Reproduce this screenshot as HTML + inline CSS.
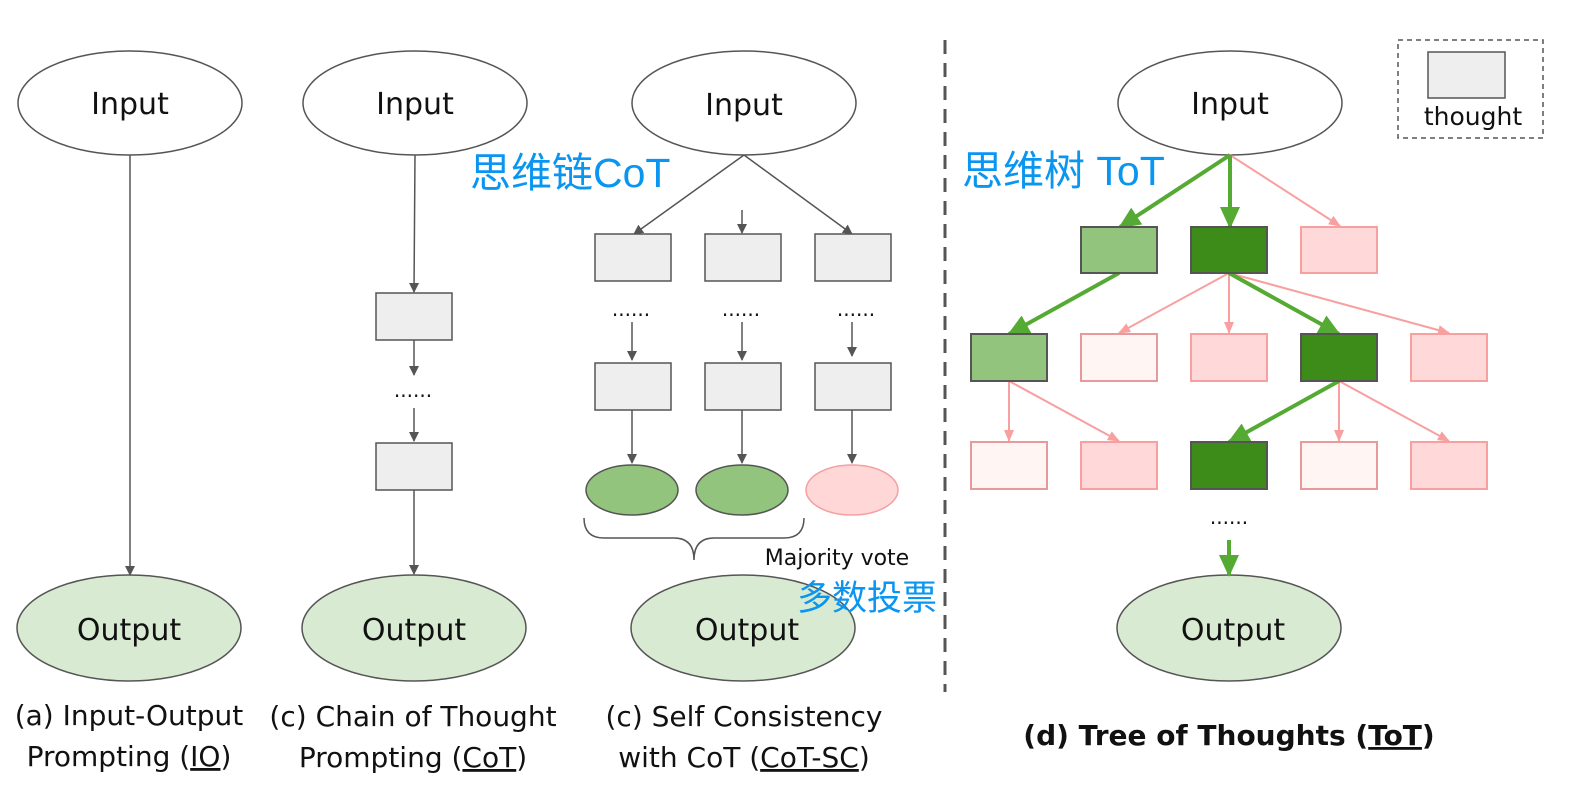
<!DOCTYPE html>
<html><head><meta charset="utf-8"><style>
body{margin:0;background:#fff;}
svg{display:block;font-family:"DejaVu Sans","Liberation Sans",sans-serif;}
</style></head><body>
<svg width="1569" height="793" viewBox="0 0 1569 793" xmlns="http://www.w3.org/2000/svg">
<defs>
<marker id="ag" markerWidth="10" markerHeight="10" refX="9" refY="5" orient="auto" markerUnits="userSpaceOnUse"><path d="M0,0 L10,5 L0,10 z" fill="#555"/></marker>
<marker id="ap" markerWidth="12" markerHeight="12" refX="11" refY="6" orient="auto" markerUnits="userSpaceOnUse"><path d="M0,1 L12,6 L0,11 z" fill="#f8a0a0"/></marker>
<marker id="agr" markerWidth="22" markerHeight="20" refX="20" refY="10" orient="auto" markerUnits="userSpaceOnUse"><path d="M0,0 L22,10 L0,20 z" fill="#55aa33"/></marker>
</defs>
<g fill="none" stroke="#555" stroke-width="1.5">
<ellipse cx="130" cy="103" rx="112" ry="52" fill="#fff"/>
<ellipse cx="415" cy="103" rx="112" ry="52" fill="#fff"/>
<ellipse cx="744" cy="103" rx="112" ry="52" fill="#fff"/>
<ellipse cx="1230" cy="103" rx="112" ry="52" fill="#fff"/>
<ellipse cx="129" cy="628" rx="112" ry="53" fill="#d9ead3"/>
<ellipse cx="414" cy="628" rx="112" ry="53" fill="#d9ead3"/>
<ellipse cx="743" cy="628" rx="112" ry="53" fill="#d9ead3"/>
<ellipse cx="1229" cy="628" rx="112" ry="53" fill="#d9ead3"/>
<line x1="130" y1="155" x2="130" y2="575" marker-end="url(#ag)"/>
<line x1="415" y1="155" x2="414" y2="292" marker-end="url(#ag)"/>
<rect x="376" y="293" width="76" height="47" fill="#eee"/>
<line x1="414" y1="340" x2="414" y2="375" marker-end="url(#ag)"/>
<line x1="414" y1="408" x2="414" y2="441" marker-end="url(#ag)"/>
<rect x="376" y="443" width="76" height="47" fill="#eee"/>
<line x1="414" y1="490" x2="414" y2="574" marker-end="url(#ag)"/>
<line x1="744" y1="155" x2="634" y2="234" marker-end="url(#ag)"/>
<line x1="742" y1="210" x2="742" y2="233" marker-end="url(#ag)"/>
<line x1="744" y1="155" x2="852" y2="234" marker-end="url(#ag)"/>
<rect x="595" y="234" width="76" height="47" fill="#eee"/>
<rect x="705" y="234" width="76" height="47" fill="#eee"/>
<rect x="815" y="234" width="76" height="47" fill="#eee"/>
<line x1="632" y1="322" x2="632" y2="360" marker-end="url(#ag)"/>
<line x1="742" y1="322" x2="742" y2="360" marker-end="url(#ag)"/>
<line x1="852" y1="322" x2="852" y2="356" marker-end="url(#ag)"/>
<rect x="595" y="363" width="76" height="47" fill="#eee"/>
<rect x="705" y="363" width="76" height="47" fill="#eee"/>
<rect x="815" y="363" width="76" height="47" fill="#eee"/>
<line x1="632" y1="410" x2="632" y2="463" marker-end="url(#ag)"/>
<line x1="742" y1="410" x2="742" y2="463" marker-end="url(#ag)"/>
<line x1="852" y1="410" x2="852" y2="463" marker-end="url(#ag)"/>
<ellipse cx="632" cy="490" rx="46" ry="25" fill="#93c47d"/>
<ellipse cx="742" cy="490" rx="46" ry="25" fill="#93c47d"/>
<ellipse cx="852" cy="490" rx="46" ry="25" fill="#ffd7d7" stroke="#f4a0a0"/>
<path d="M584,518 Q584,538 604,538 L674,538 Q694,538 694,560 Q694,538 714,538 L784,538 Q804,538 804,518"/>
</g>
<line x1="945" y1="40" x2="945" y2="692" stroke="#555" stroke-width="3" stroke-dasharray="14,9"/>
<rect x="1398" y="40" width="145" height="98" fill="none" stroke="#555" stroke-width="1.5" stroke-dasharray="5,4"/>
<rect x="1428" y="52" width="77" height="46" fill="#eee" stroke="#555" stroke-width="1.5"/>
<text x="1473" y="125" font-size="25" text-anchor="middle" fill="#111">thought</text>
<g stroke-width="2" fill="none">
<line x1="1230" y1="155" x2="1340" y2="226" stroke="#f8a0a0" marker-end="url(#ap)"/>
<line x1="1229" y1="273" x2="1119" y2="333" stroke="#f8a0a0" marker-end="url(#ap)"/>
<line x1="1229" y1="273" x2="1229" y2="333" stroke="#f8a0a0" marker-end="url(#ap)"/>
<line x1="1229" y1="273" x2="1449" y2="333" stroke="#f8a0a0" marker-end="url(#ap)"/>
<line x1="1009" y1="381" x2="1009" y2="441" stroke="#f8a0a0" marker-end="url(#ap)"/>
<line x1="1009" y1="381" x2="1119" y2="441" stroke="#f8a0a0" marker-end="url(#ap)"/>
<line x1="1339" y1="381" x2="1339" y2="441" stroke="#f8a0a0" marker-end="url(#ap)"/>
<line x1="1339" y1="381" x2="1449" y2="441" stroke="#f8a0a0" marker-end="url(#ap)"/>
</g>
<g stroke="#55aa33" stroke-width="4" fill="none">
<line x1="1230" y1="155" x2="1120" y2="227" marker-end="url(#agr)"/>
<line x1="1230" y1="155" x2="1230" y2="227" marker-end="url(#agr)"/>
<line x1="1119" y1="273" x2="1009" y2="334" marker-end="url(#agr)"/>
<line x1="1229" y1="273" x2="1339" y2="334" marker-end="url(#agr)"/>
<line x1="1339" y1="381" x2="1229" y2="442" marker-end="url(#agr)"/>
<line x1="1229" y1="540" x2="1229" y2="575" marker-end="url(#agr)"/>
</g>
<g stroke-width="2">
<rect x="1081" y="227" width="76" height="46" fill="#93c47d" stroke="#555"/>
<rect x="1191" y="227" width="76" height="46" fill="#3d8b18" stroke="#555"/>
<rect x="1301" y="227" width="76" height="46" fill="#ffd9d9" stroke="#f8a0a0"/>
<rect x="971" y="334" width="76" height="47" fill="#93c47d" stroke="#555"/>
<rect x="1081" y="334" width="76" height="47" fill="#fff5f3" stroke="#e89a9a"/>
<rect x="1191" y="334" width="76" height="47" fill="#ffd9d9" stroke="#f8a0a0"/>
<rect x="1301" y="334" width="76" height="47" fill="#3d8b18" stroke="#555"/>
<rect x="1411" y="334" width="76" height="47" fill="#ffd9d9" stroke="#f8a0a0"/>
<rect x="971" y="442" width="76" height="47" fill="#fff5f3" stroke="#e89a9a"/>
<rect x="1081" y="442" width="76" height="47" fill="#ffd9d9" stroke="#f8a0a0"/>
<rect x="1191" y="442" width="76" height="47" fill="#3d8b18" stroke="#555"/>
<rect x="1301" y="442" width="76" height="47" fill="#fff5f3" stroke="#e89a9a"/>
<rect x="1411" y="442" width="76" height="47" fill="#ffd9d9" stroke="#f8a0a0"/>
</g>
<g font-size="30" text-anchor="middle" fill="#111">
<text x="130" y="114">Input</text>
<text x="415" y="114">Input</text>
<text x="744" y="115">Input</text>
<text x="1230" y="114">Input</text>
<text x="129" y="640">Output</text>
<text x="414" y="640">Output</text>
<text x="747" y="640">Output</text>
<text x="1233" y="640">Output</text>
<text x="413" y="397" font-size="20">......</text>
<text x="631" y="316" font-size="20">......</text>
<text x="741" y="316" font-size="20">......</text>
<text x="856" y="316" font-size="20">......</text>
<text x="1229" y="524" font-size="20">......</text>
<text x="129" y="725" font-size="28">(a) Input-Output</text>
<text x="129" y="766" font-size="28">Prompting (<tspan text-decoration="underline">IO</tspan>)</text>
<text x="413" y="726" font-size="28">(c) Chain of Thought</text>
<text x="413" y="767" font-size="28">Prompting (<tspan text-decoration="underline">CoT</tspan>)</text>
<text x="744" y="726" font-size="28">(c) Self Consistency</text>
<text x="744" y="767" font-size="28">with CoT (<tspan text-decoration="underline">CoT-SC</tspan>)</text>
<text x="1229" y="745" font-size="28" font-weight="bold">(d) Tree of Thoughts (<tspan text-decoration="underline">ToT</tspan>)</text>
<text x="837" y="565" font-size="22">Majority vote</text>
</g>
<g font-family="'Liberation Sans','Noto Sans CJK SC',sans-serif" fill="#0a96f0">
<text x="470" y="187" font-size="41">思维链CoT</text>
<text x="962" y="185" font-size="41">思维树 ToT</text>
<text x="797" y="610" font-size="35">多数投票</text>
</g>
</svg>
</body></html>
